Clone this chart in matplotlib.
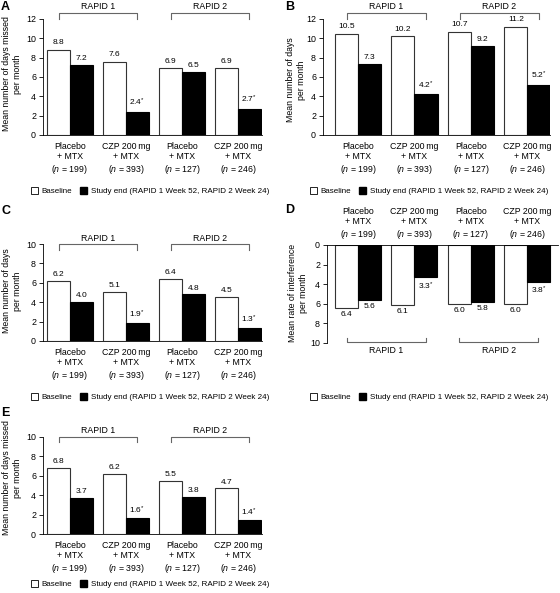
import matplotlib
matplotlib.use('Agg')
import matplotlib.pyplot as plt
from matplotlib.patches import Patch
import numpy as np

plt.rcParams['font.family'] = ['Liberation Sans', 'DejaVu Sans']
plt.rcParams['mathtext.fontset'] = 'custom'
plt.rcParams['mathtext.rm'] = 'Liberation Sans'
plt.rcParams['mathtext.it'] = 'Liberation Sans:italic'

groups = ['Placebo\n+ MTX\n($\\it{n}$ = 199)', 'CZP 200\u2009mg\n+ MTX\n($\\it{n}$ = 393)',
          'Placebo\n+ MTX\n($\\it{n}$ = 127)', 'CZP 200\u2009mg\n+ MTX\n($\\it{n}$ = 246)']
studies = ['RAPID 1', 'RAPID 2']
legend_labels = ['Baseline', 'Study end (RAPID 1 Week 52, RAPID 2 Week 24)']

# baseline / study end, asterisk = significant
a_base = [8.8, 7.6, 6.9, 6.9]
a_end = [7.2, 2.4, 6.5, 2.7]
b_base = [10.5, 10.2, 10.7, 11.2]
b_end = [7.3, 4.2, 9.2, 5.2]
c_base = [6.2, 5.1, 6.4, 4.5]
c_end = [4.0, 1.9, 4.8, 1.3]
d_base = [6.4, 6.1, 6.0, 6.0]
d_end = [5.6, 3.3, 5.8, 3.8]
e_base = [6.8, 6.2, 5.5, 4.7]
e_end = [3.7, 1.6, 3.8, 1.4]
signif = [False, True, False, True]

W, H = 560, 593
fig = plt.figure(figsize=(W / 100, H / 100), dpi=100)
FS = 6
w = 0.41


def px_axes(left, top, right, bottom):
    return fig.add_axes([left / W, 1 - bottom / H, (right - left) / W, (bottom - top) / H])


def fmt(v, s):
    return '%.1f' % v + ('$^{*}$' if s else '')


def panel(ax, base, end, ymax, step, xlim, br_y, br_tick, txt_y, inverted=False):
    x = np.arange(4)
    ax.bar(x - w / 2, base, w, color='white', edgecolor='#333333', linewidth=0.8)
    ax.bar(x + w / 2, end, w, color='black', edgecolor='black', linewidth=0.8)
    off = 0.03 * ymax
    va = 'top' if inverted else 'bottom'
    for i in range(4):
        ax.text(x[i] - w / 2, base[i] + off, fmt(base[i], False), ha='center', va=va, fontsize=FS)
        ax.text(x[i] + w / 2, end[i] + off, fmt(end[i], signif[i]), ha='center', va=va, fontsize=FS)
    ax.set_xlim(*xlim)
    ax.set_ylim(0, ymax)
    ax.set_yticks(np.arange(0, ymax + 0.1, step))
    ax.tick_params(axis='y', labelsize=FS + 0.4, length=3, width=0.6, pad=2)
    ax.set_xticks(x)
    ax.set_xticklabels(groups, fontsize=FS + 0.3, linespacing=1.2)
    ax.tick_params(axis='x', length=0, pad=5)
    ax.spines['right'].set_visible(False)
    ax.spines['left'].set_linewidth(0.6)
    if inverted:
        ax.invert_yaxis()
        ax.xaxis.tick_top()
        ax.tick_params(axis='x', pad=3)
        ax.spines['bottom'].set_visible(False)
        ax.spines['top'].set_linewidth(0.6)
    else:
        ax.spines['top'].set_visible(False)
        ax.spines['bottom'].set_linewidth(0.6)
    for (x0, x1), name in zip([(-0.2, 1.2), (1.8, 3.2)], studies):
        ax.plot([x0, x0, x1, x1], [br_tick, br_y, br_y, br_tick], color='#666666', lw=0.8, clip_on=False)
        ax.text((x0 + x1) / 2, txt_y, name, ha='center', va='center', fontsize=FS + 0.3)


def ylabel(text, cx, cy):
    fig.text(cx / W, 1 - cy / H, text, rotation=90, ha='center', va='center',
             fontsize=FS + 0.3, linespacing=1.15, multialignment='center')


def legend(cx, cy):
    handles = [Patch(facecolor='white', edgecolor='black', linewidth=0.6),
               Patch(facecolor='black', edgecolor='black')]
    fig.legend(handles, legend_labels, loc='center', bbox_to_anchor=(cx / W, 1 - cy / H), ncol=2,
               frameon=False, fontsize=FS - 0.2, handlelength=0.9, handleheight=0.9, handletextpad=0.4,
               columnspacing=1.0, borderpad=0)


ylab_days_missed = 'Mean number of days missed\nper month'
ylab_days = 'Mean number of days\nper month'

axA = px_axes(43, 19, 262, 135)
panel(axA, a_base, a_end, 12, 2, (-0.48, 3.43), 12.6, 12.0, 13.25)
ylabel(ylab_days_missed, 12, 74)

axB = px_axes(323, 19, 550, 135)
panel(axB, b_base, b_end, 12, 2, (-0.62, 3.40), 12.6, 12.0, 13.25)
ylabel(ylab_days, 296, 80)

axC = px_axes(43, 244, 262, 341)
panel(axC, c_base, c_end, 10, 2, (-0.48, 3.43), 10.0, 9.4, 10.6)
ylabel(ylab_days, 12, 291)

axD = px_axes(327, 245, 558, 343)
panel(axD, d_base, d_end, 10, 2, (-0.55, 3.55), 9.9, 9.5, 10.75, inverted=True)
ylabel('Mean rate of interference\nper month', 298, 293)

axE = px_axes(43, 437, 262, 534)
panel(axE, e_base, e_end, 10, 2, (-0.48, 3.43), 10.0, 9.5, 10.7)
ylabel(ylab_days_missed, 12, 478)

legend(150, 191)
legend(429, 191)
legend(150, 397)
legend(429, 397)
legend(150, 584)

for lab, x, y in [('A', 1, 7), ('B', 285, 7), ('C', 1, 211), ('D', 285, 210), ('E', 1, 413)]:
    fig.text(x / W, 1 - y / H, lab, fontsize=9, fontweight='bold', ha='left', va='center')

fig.savefig('out.png', dpi=100)
